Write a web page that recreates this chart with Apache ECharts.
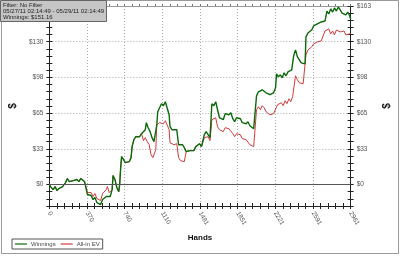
<!DOCTYPE html>
<html><head><meta charset="utf-8">
<script src="https://cdn.jsdelivr.net/npm/echarts@6/dist/echarts.min.js"></script>
<style>html,body{margin:0;padding:0;background:#fff}#c{width:400px;height:257px}</style>
</head><body><div id="c"></div>
<script>
// ---- data ----
const xTickLabels = [0, 370, 740, 1110, 1481, 1851, 2221, 2591, 2961];
const yTickLabels = ['$0', '$33', '$65', '$98', '$130', '$163'];
const infoLines = ['Filter: No Filter', '05/27/11 02:14:49 - 05/29/11 02:14:49', 'Winnings: $151.16'];

const winHands = [0,19,37,56,75,93,112,131,149,159,177,196,215,234,252,271,290,308,327,346,364,374,392,411,430,448,467,486,504,523,542,560,579,598,607,617,626,645,663,682,691,701,710,729,747,766,785,803,813,831,850,869,887,906,925,943,953,971,990,1009,1028,1046,1056,1065,1084,1102,1121,1140,1158,1177,1186,1205,1224,1252,1270,1289,1308,1326,1345,1364,1382,1401,1420,1439,1457,1476,1495,1513,1523,1541,1560,1579,1597,1616,1635,1653,1672,1691,1709,1728,1747,1765,1784,1803,1821,1840,1859,1878,1896,1915,1934,1952,1971,1990,2008,2027,2036,2055,2074,2092,2111,2130,2148,2167,2186,2204,2223,2233,2251,2270,2289,2307,2326,2345,2363,2382,2401,2419,2438,2457,2475,2494,2513,2522,2541,2559,2578,2597,2615,2634,2653,2672,2690,2709,2728,2746,2765,2784,2802,2821,2840,2858,2877,2896,2914,2933,2952,2961];
const winnings = [0,-2.7,-4.6,-1.8,-5.5,-3.6,-4.6,-1.8,-3.6,1.8,5.5,2.7,1.8,3.6,2.7,4.6,2.7,5.5,4.6,2.7,1.8,-9.1,-10.9,-10.0,-13.7,-11.8,-16.4,-14.6,-18.2,-13.7,-15.5,-10.9,-12.7,-10.9,-11.8,-4.6,8.2,4.6,-2.7,-6.4,0,15.5,25.5,22.8,20.0,18.2,20.9,24.6,34.6,41.0,43.7,45.5,43.7,46.4,47.4,50.1,56.5,51.9,48.3,42.8,39.2,39.2,54.6,66.5,68.3,73.8,71.9,75.6,73.8,63.7,52.8,50.1,49.2,50.1,36.4,35.5,36.4,33.7,30.1,31.9,31.0,32.8,31.0,34.6,35.5,37.3,34.6,33.7,45.5,48.3,47.4,42.8,73.8,71.9,75.6,68.3,61.0,61.9,59.2,64.7,65.6,63.7,65.6,60.1,57.4,61.0,59.2,60.1,56.5,58.3,55.5,57.4,53.7,55.5,51.0,51.9,81.0,84.7,82.9,86.5,88.3,83.8,85.6,82.0,81.0,83.8,88.3,101.1,98.3,100.2,97.4,102.0,99.3,102.9,101.1,104.7,117.5,122.9,116.6,113.8,111.1,112.9,110.2,134.8,138.4,136.6,141.1,144.8,143.0,146.6,144.8,148.4,150.2,149.3,158.4,155.7,160.3,157.5,161.2,158.4,162.1,160.3,156.6,158.4,154.8,157.5,153.9,151.2];

const evHands = [0,19,37,56,75,93,112,131,149,159,177,196,215,234,252,271,290,308,327,346,364,374,392,411,430,448,467,486,504,523,542,560,570,588,607,617,626,645,663,682,691,701,710,729,747,766,785,803,813,831,850,869,887,906,925,943,962,981,999,1018,1037,1046,1056,1065,1084,1102,1121,1140,1158,1177,1186,1205,1224,1252,1270,1289,1308,1326,1345,1364,1382,1401,1420,1439,1457,1476,1495,1513,1523,1541,1560,1579,1597,1616,1635,1653,1672,1691,1709,1728,1747,1765,1784,1803,1821,1840,1859,1878,1896,1915,1934,1952,1971,1990,2008,2027,2036,2055,2074,2092,2111,2130,2148,2167,2186,2204,2223,2242,2261,2279,2298,2317,2335,2354,2373,2391,2410,2419,2438,2457,2475,2494,2513,2522,2541,2559,2578,2597,2615,2634,2653,2672,2690,2709,2728,2746,2765,2784,2802,2821,2840,2858,2877,2896,2914,2933,2952,2961];
const allInEV = [0,-2.7,-4.6,-1.8,-5.5,-3.6,-4.6,-1.8,-3.6,1.8,5.5,2.7,1.8,3.6,2.7,4.6,2.7,5.5,4.6,2.7,1.8,-7.3,-9.1,-7.3,-10.9,-8.2,-12.7,-10.9,-14.6,-8.2,-10.0,-4.6,-1.8,-7.3,-9.1,-4.6,8.2,4.6,-2.7,-6.4,0,15.5,25.5,22.8,20.0,18.2,20.9,24.6,34.6,41.0,43.7,45.5,43.7,46.4,40.1,42.8,39.2,36.4,27.3,24.6,25.5,31.9,54.6,55.5,56.5,57.4,55.5,58.3,56.5,50.1,38.2,37.3,36.4,37.3,24.6,21.9,22.8,20.9,30.1,31.9,31.0,32.8,31.0,34.6,35.5,37.3,34.6,33.7,42.8,44.6,43.7,40.1,59.2,58.3,61.0,52.8,50.1,51.0,48.3,51.9,52.8,51.0,51.9,46.4,43.7,46.4,44.6,45.5,41.9,43.7,41.0,39.2,36.4,38.2,34.6,35.5,68.3,71.0,68.3,72.0,70.1,66.5,68.3,63.7,62.8,64.7,66.5,72.8,71.0,74.7,72.0,76.5,73.8,78.3,75.6,80.1,81.0,99.3,95.6,92.9,94.7,92.0,93.8,118.4,122.9,121.1,125.7,128.4,126.6,130.2,128.4,131.1,129.3,140.2,139.3,142.1,137.5,140.2,136.6,141.1,142.1,139.3,137.5,140.2,136.6,138.4,137.5,138.4];

// ---- axis scale settings ----
const X_MAX = 2961, X_MAJOR = 2961 / 8, X_MINOR = X_MAJOR / 5;
const Y_MAX = 163, Y_MAJOR = 163 / 5, Y_MINOR = Y_MAJOR / 5, Y_MIN = -3 * Y_MINOR;

function isMajor(v, step) { const r = v / step; return Math.abs(r - Math.round(r)) < 0.01; }
const yMajorVals = yTickLabels.map((_, i) => +(i * Y_MAJOR).toFixed(2));

const chart = echarts.init(document.getElementById('c'), null, {renderer: 'canvas'});
const FONT = 'Liberation Sans';
const labelStyle = {fontSize: 6.5, color: '#555', fontFamily: FONT};

function yAx(pos, inside, withLabels, extra) {
  return Object.assign({
    type: 'value', position: pos, min: Y_MIN, max: Y_MAX, interval: Y_MINOR,
    axisLine: {show: !inside, onZero: false, lineStyle: {color: '#222', width: 1}},
    axisTick: {show: true, inside: inside, length: 3, lineStyle: {color: '#222'}},
    axisLabel: {show: withLabels, margin: 6, ...labelStyle,
      formatter: v => { if (!isMajor(v, Y_MAJOR) || v < -0.01) return ''; return yTickLabels[Math.round(v / Y_MAJOR)]; }},
    splitLine: {show: false}
  }, extra || {});
}
function xAx(inside, withLabels, extra) {
  return Object.assign({
    type: 'value', position: 'bottom', min: 0, max: X_MAX, interval: X_MINOR,
    axisLine: {show: !inside, onZero: false, lineStyle: {color: '#222', width: 1}},
    axisTick: {show: true, inside: inside, length: 3, lineStyle: {color: '#222'}},
    axisLabel: {show: withLabels, rotate: -60, margin: 6, ...labelStyle,
      formatter: v => isMajor(v, X_MAJOR) ? String(xTickLabels[Math.round(v / X_MAJOR)]) : ''},
    splitLine: {show: false}
  }, extra || {});
}

const option = {
  animation: false,
  backgroundColor: '#fff',
  title: {
    text: infoLines.join('\n'), left: 0, top: 0, padding: [2, 3, 2, 3],
    backgroundColor: '#c6c6c6', borderColor: '#666', borderWidth: 1,
    textStyle: {fontSize: 6, lineHeight: 6, fontWeight: 'normal', color: '#222', fontFamily: FONT}
  },
  legend: {
    left: 12, top: 239, orient: 'horizontal', icon: 'rect', itemWidth: 12, itemHeight: 1.2, itemGap: 5,
    padding: [2, 3], borderColor: '#555', borderWidth: 1,
    textStyle: {fontSize: 6, color: '#444', fontFamily: FONT, padding: [0, 0, 0, -1]},
    data: ['Winnings', 'All-in EV']
  },
  grid: {left: 41, right: 42, top: 6, bottom: 51, containLabel: false},
  xAxis: [
    xAx(false, true, {name: 'Hands', nameLocation: 'middle', nameGap: 27,
      nameTextStyle: {fontSize: 8, fontWeight: 'bold', color: '#111', fontFamily: FONT}}),
    xAx(true, false),
    {type: 'value', position: 'bottom', min: 0, max: X_MAX, interval: X_MAJOR, axisLine: {show: false, onZero: false},
     axisTick: {show: false}, axisLabel: {show: false},
     splitLine: {show: true, lineStyle: {color: '#aaa', type: [1, 2], width: 1}}},
    {type: 'value', position: 'top', min: 0, max: X_MAX, interval: X_MINOR,
     axisLine: {show: true, onZero: false, lineStyle: {color: '#999'}},
     axisTick: {show: true, inside: false, length: 2, lineStyle: {color: '#777'}}, axisLabel: {show: false}, splitLine: {show: false}}
  ],
  yAxis: [
    yAx('left', false, true, {name: '$', nameLocation: 'middle', nameGap: 30,
      nameTextStyle: {fontSize: 10, fontWeight: 'bold', color: '#111', fontFamily: FONT}}),
    yAx('left', true, false),
    yAx('right', false, true, {name: '$', nameLocation: 'middle', nameGap: 25,
      nameTextStyle: {fontSize: 10, fontWeight: 'bold', color: '#111', fontFamily: FONT}}),
    yAx('right', true, false),
    {type: 'value', position: 'left', min: Y_MIN, max: Y_MAX, axisLine: {show: false, onZero: false},
     axisTick: {show: false, customValues: yMajorVals.slice(1)}, axisLabel: {show: false},
     splitLine: {show: true, lineStyle: {color: '#aaa', type: [1, 2], width: 1}}}
  ],
  series: [
    {name: 'Winnings', type: 'line', xAxisIndex: 0, yAxisIndex: 0, symbol: 'none', z: 4,
     color: '#0c6a0c', lineStyle: {width: 1.4, color: '#0c6a0c'},
     data: winHands.map((h, i) => [h, winnings[i]]),
     markLine: {silent: true, symbol: 'none', label: {show: false},
       lineStyle: {color: '#555', type: 'solid', width: 1}, data: [{yAxis: 0}]}},
    {name: 'All-in EV', type: 'line', xAxisIndex: 0, yAxisIndex: 0, symbol: 'none', z: 3,
     color: '#d23c3c', lineStyle: {width: 1, color: '#d23c3c'},
     data: evHands.map((h, i) => [h, allInEV[i]])}
  ],
  graphic: [{type: 'rect', silent: true, z: -1, shape: {x: 1.5, y: 0.5, width: 397, height: 253},
    style: {fill: 'none', stroke: '#999', lineWidth: 1}}]
};
chart.setOption(option);
</script></body></html>
